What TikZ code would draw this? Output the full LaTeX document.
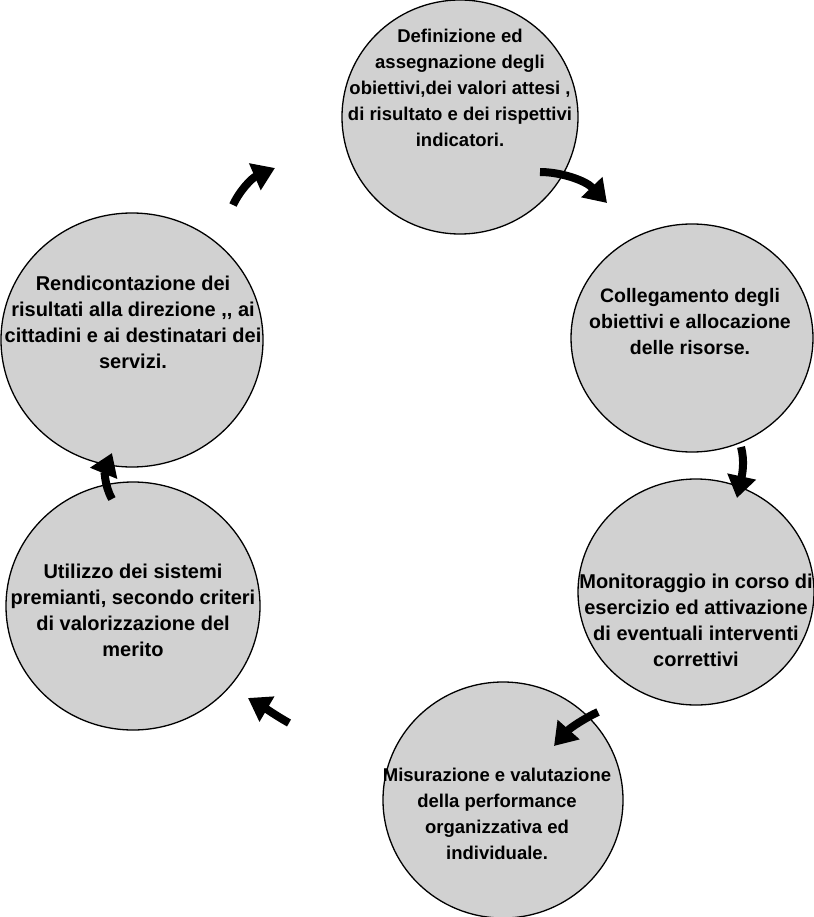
\documentclass[tikz,border=0pt]{standalone}
\usepackage{fontspec}
\setmainfont{Liberation Sans}
\usetikzlibrary{arrows.meta,shapes.geometric}
\begin{document}
\begin{tikzpicture}[x=1pt,y=-1pt,
  circ/.style={ellipse,draw=black,line width=1.3pt,fill=black!18,inner sep=0pt},
  lbl/.style={align=center,font=\fontsize{#1}{26}\selectfont\bfseries,inner sep=0pt},
  lbl/.default=19,
  flow/.style={line width=8pt,-{Triangle[length=22pt,width=28pt]}}]
\useasboundingbox (0,0) rectangle (813,917);
\node[circ,minimum width=236pt,minimum height=234pt] (c1) at (460,117) {};
\node[circ,minimum width=242pt,minimum height=228pt] (c2) at (692,338) {};
\node[circ,minimum width=236pt,minimum height=226pt] (c3) at (696,592) {};
\node[circ,minimum width=240pt,minimum height=236pt] (c4) at (503,800) {};
\node[circ,minimum width=254pt,minimum height=248pt] (c5) at (133,606) {};
\node[circ,minimum width=262pt,minimum height=254pt] (c6) at (132,340) {};
\node[lbl=18.5] (t1) at (460,88) {Definizione ed\\assegnazione degli\\obiettivi,dei valori attesi ,\\di risultato e dei rispettivi\\indicatori.};
\node[lbl=19.5] (t2) at (690,322) {Collegamento degli\\obiettivi e allocazione\\delle risorse.};
\node[lbl=20] (t3) at (696,620) {Monitoraggio in corso di\\esercizio ed attivazione\\di eventuali interventi\\correttivi};
\node[lbl=18.5] (t4) at (497,814) {Misurazione e valutazione\\della performance\\organizzativa ed\\individuale.};
\node[lbl=20] (t5) at (133,610) {Utilizzo dei sistemi\\premianti, secondo criteri\\di valorizzazione del\\merito};
\node[lbl=20] (t6) at (133,322) {Rendicontazione dei\\risultati alla direzione ,{},{} ai\\cittadini e ai destinatari dei\\servizi.};
\coordinate (a1s) at (540,172); \coordinate (a1e) at (607,203);
\coordinate (a2s) at (741,447); \coordinate (a2e) at (737,498);
\coordinate (a3s) at (598,712); \coordinate (a3e) at (554,746);
\coordinate (a4s) at (289,723); \coordinate (a4e) at (248,698);
\coordinate (a5s) at (112,499); \coordinate (a5e) at (112,453);
\coordinate (a6s) at (233,205); \coordinate (a6e) at (275,168);
\draw[flow] (a1s) .. controls (560,172) and (585,180) .. (a1e);
\draw[flow] (a2s) .. controls (745,462) and (742,475) .. (a2e);
\draw[flow] (a3s) .. controls (585,718) and (570,728) .. (a3e);
\draw[flow] (a4s) .. controls (275,715) and (265,708) .. (a4e);
\draw[flow] (a5s) .. controls (104,485) and (105,470) .. (a5e);
\draw[flow] (a6s) .. controls (240,190) and (252,178) .. (a6e);
\end{tikzpicture}
\end{document}
